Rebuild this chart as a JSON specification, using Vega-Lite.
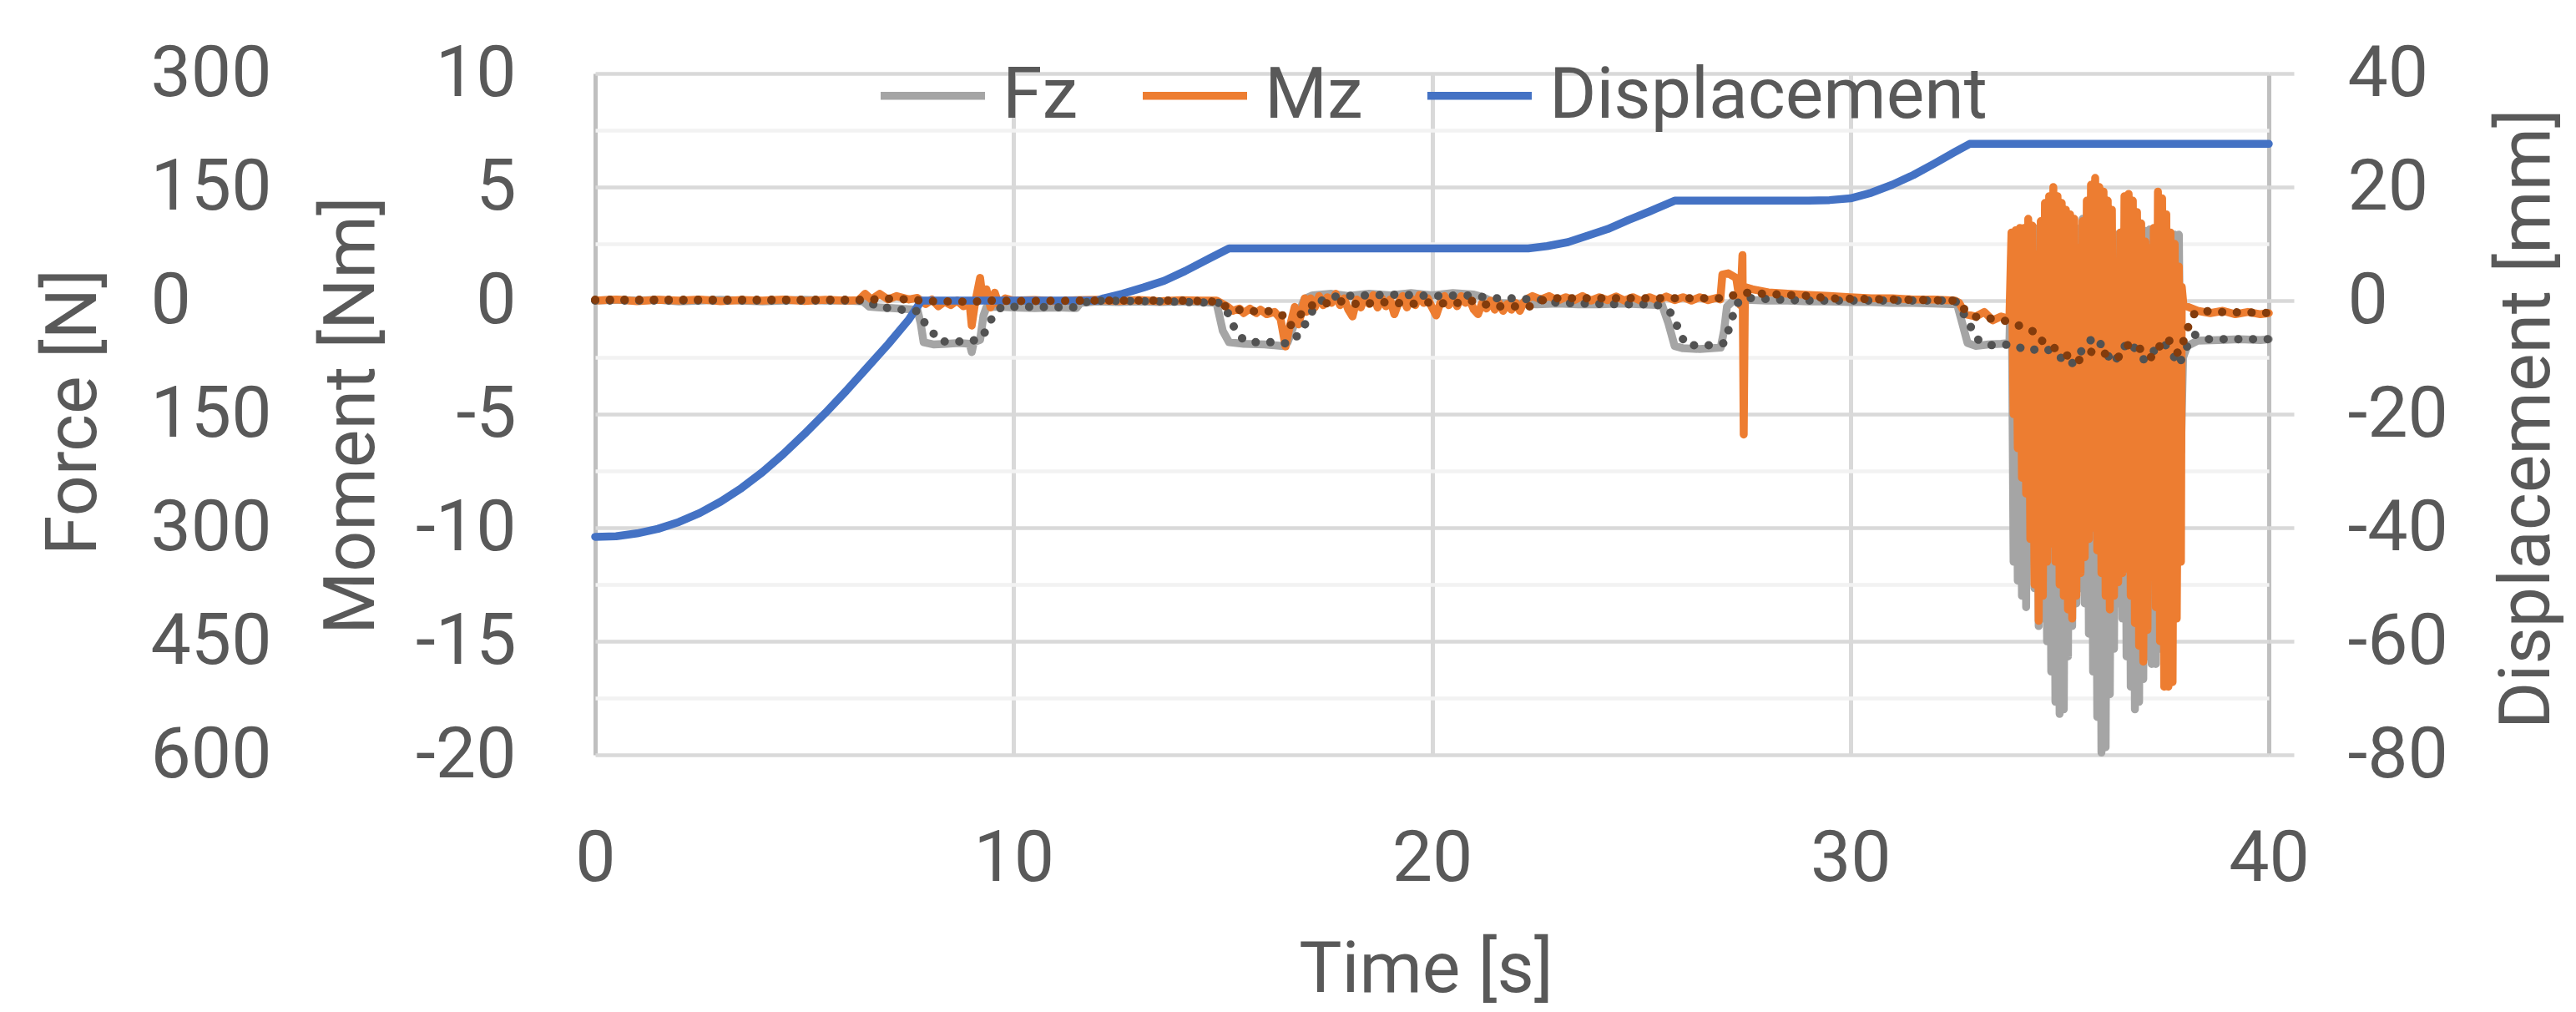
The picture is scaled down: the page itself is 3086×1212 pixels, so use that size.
{
  "$schema": "https://vega.github.io/schema/vega-lite/v6.json",
  "width": 2005,
  "height": 816,
  "autosize": {"type": "none"},
  "padding": {"left": 713, "top": 88, "right": 368, "bottom": 308},
  "background": "white",
  "config": {
    "view": {"stroke": null},
    "font": "Roboto",
    "axis": {
      "labelFont": "Roboto",
      "titleFont": "Roboto",
      "labelColor": "#595959",
      "titleColor": "#595959",
      "labelFontSize": 86,
      "titleFontSize": 86,
      "titleFontWeight": "normal",
      "labelFlush": false,
      "labelOverlap": false
    }
  },
  "datasets": {
    "fz": [
      {"t": 0, "v": 0}, {"t": 0.5, "v": 1}, {"t": 1, "v": 0}, {"t": 1.5, "v": 1}, {"t": 2, "v": -1},
      {"t": 2.5, "v": 0}, {"t": 3, "v": 1}, {"t": 3.5, "v": 0}, {"t": 4, "v": -1}, {"t": 4.5, "v": 0},
      {"t": 5, "v": 1}, {"t": 5.5, "v": 0}, {"t": 6, "v": 0}, {"t": 6.4, "v": -1}, {"t": 6.55, "v": -8},
      {"t": 6.8, "v": -9}, {"t": 7.1, "v": -10}, {"t": 7.4, "v": -11}, {"t": 7.7, "v": -12}, {"t": 7.78, "v": -30},
      {"t": 7.85, "v": -55}, {"t": 8.1, "v": -58}, {"t": 8.4, "v": -57}, {"t": 8.7, "v": -56}, {"t": 8.95, "v": -57},
      {"t": 9.0, "v": -68}, {"t": 9.05, "v": -55}, {"t": 9.2, "v": -52}, {"t": 9.28, "v": -20}, {"t": 9.35, "v": -9},
      {"t": 9.6, "v": -8}, {"t": 10, "v": -9}, {"t": 10.5, "v": -10}, {"t": 11, "v": -9}, {"t": 11.5, "v": -10},
      {"t": 11.6, "v": -3}, {"t": 12, "v": -1}, {"t": 12.5, "v": -2}, {"t": 13, "v": -1}, {"t": 13.5, "v": -2},
      {"t": 14, "v": -1}, {"t": 14.5, "v": -2}, {"t": 14.85, "v": -3}, {"t": 15.0, "v": -40}, {"t": 15.15, "v": -55},
      {"t": 15.5, "v": -57}, {"t": 16.0, "v": -58}, {"t": 16.45, "v": -60}, {"t": 16.55, "v": -55}, {"t": 16.75, "v": -25},
      {"t": 16.95, "v": 2}, {"t": 17.15, "v": 7}, {"t": 17.6, "v": 9}, {"t": 18, "v": 6}, {"t": 18.5, "v": 9},
      {"t": 19, "v": 7}, {"t": 19.5, "v": 10}, {"t": 20, "v": 7}, {"t": 20.5, "v": 10}, {"t": 21, "v": 8},
      {"t": 21.2, "v": 5}, {"t": 21.5, "v": -3}, {"t": 22, "v": -4}, {"t": 22.5, "v": -5}, {"t": 23, "v": -4},
      {"t": 23.5, "v": -5}, {"t": 24, "v": -5}, {"t": 24.5, "v": -4}, {"t": 25, "v": -5}, {"t": 25.5, "v": -6},
      {"t": 25.65, "v": -30}, {"t": 25.8, "v": -60}, {"t": 26.0, "v": -63}, {"t": 26.4, "v": -64}, {"t": 26.9, "v": -62},
      {"t": 26.98, "v": -40}, {"t": 27.05, "v": -8}, {"t": 27.2, "v": 0}, {"t": 27.5, "v": 1}, {"t": 28, "v": 0},
      {"t": 28.5, "v": 0}, {"t": 29, "v": -1}, {"t": 29.5, "v": -1}, {"t": 30, "v": -2}, {"t": 30.5, "v": -2},
      {"t": 31, "v": -3}, {"t": 31.5, "v": -3}, {"t": 32, "v": -4}, {"t": 32.55, "v": -5}, {"t": 32.65, "v": -25},
      {"t": 32.8, "v": -56}, {"t": 33.0, "v": -60}, {"t": 33.3, "v": -58}, {"t": 33.6, "v": -57}, {"t": 33.8, "v": -56},
      {"t": 33.85, "v": 60}, {"t": 33.9, "v": -345}, {"t": 33.95, "v": 70}, {"t": 34.0, "v": -370}, {"t": 34.05, "v": 80},
      {"t": 34.1, "v": -390}, {"t": 34.15, "v": 85}, {"t": 34.2, "v": -405}, {"t": 34.25, "v": 90}, {"t": 34.3, "v": -300},
      {"t": 34.35, "v": 90}, {"t": 34.4, "v": -380}, {"t": 34.45, "v": 95}, {"t": 34.5, "v": -430}, {"t": 34.55, "v": 95},
      {"t": 34.6, "v": -420}, {"t": 34.65, "v": 90}, {"t": 34.7, "v": -450}, {"t": 34.75, "v": 85}, {"t": 34.8, "v": -490},
      {"t": 34.85, "v": 80}, {"t": 34.9, "v": -530}, {"t": 34.95, "v": 85}, {"t": 35.0, "v": -546}, {"t": 35.05, "v": 80},
      {"t": 35.1, "v": -540}, {"t": 35.15, "v": 80}, {"t": 35.2, "v": -470}, {"t": 35.25, "v": 75}, {"t": 35.3, "v": -430},
      {"t": 35.35, "v": 85}, {"t": 35.4, "v": -400}, {"t": 35.45, "v": 95}, {"t": 35.5, "v": -380}, {"t": 35.55, "v": 108},
      {"t": 35.6, "v": -400}, {"t": 35.65, "v": 100}, {"t": 35.7, "v": -440}, {"t": 35.75, "v": 95}, {"t": 35.8, "v": -490},
      {"t": 35.85, "v": 90}, {"t": 35.9, "v": -550}, {"t": 35.95, "v": 95}, {"t": 36.0, "v": -597}, {"t": 36.05, "v": 90},
      {"t": 36.1, "v": -590}, {"t": 36.15, "v": 85}, {"t": 36.2, "v": -520}, {"t": 36.25, "v": 85}, {"t": 36.3, "v": -460},
      {"t": 36.35, "v": 87}, {"t": 36.4, "v": -400}, {"t": 36.45, "v": 80}, {"t": 36.5, "v": -420}, {"t": 36.55, "v": 80},
      {"t": 36.6, "v": -470}, {"t": 36.65, "v": 85}, {"t": 36.7, "v": -510}, {"t": 36.75, "v": 85}, {"t": 36.8, "v": -540},
      {"t": 36.85, "v": 90}, {"t": 36.9, "v": -530}, {"t": 36.95, "v": 90}, {"t": 37.0, "v": -500}, {"t": 37.05, "v": 92},
      {"t": 37.1, "v": -470}, {"t": 37.15, "v": 94}, {"t": 37.2, "v": -480}, {"t": 37.25, "v": 90}, {"t": 37.3, "v": -480},
      {"t": 37.35, "v": 85}, {"t": 37.4, "v": -460}, {"t": 37.45, "v": 80}, {"t": 37.5, "v": -430}, {"t": 37.55, "v": 80},
      {"t": 37.6, "v": -400}, {"t": 37.65, "v": 85}, {"t": 37.7, "v": -380}, {"t": 37.75, "v": 87}, {"t": 37.8, "v": -350},
      {"t": 37.85, "v": 87}, {"t": 37.9, "v": -200}, {"t": 37.95, "v": -75}, {"t": 38.05, "v": -60}, {"t": 38.3, "v": -53},
      {"t": 38.8, "v": -52}, {"t": 39.3, "v": -51}, {"t": 39.8, "v": -52}, {"t": 40, "v": -51}
    ],
    "mz": [
      {"t": 0, "v": 0}, {"t": 0.5, "v": 0.05}, {"t": 1, "v": -0.03}, {"t": 1.5, "v": 0.04}, {"t": 2, "v": 0},
      {"t": 2.5, "v": 0.05}, {"t": 3, "v": -0.03}, {"t": 3.5, "v": 0.03}, {"t": 4, "v": 0}, {"t": 4.5, "v": 0.05},
      {"t": 5, "v": -0.02}, {"t": 5.5, "v": 0.04}, {"t": 6, "v": 0}, {"t": 6.3, "v": 0.02}, {"t": 6.45, "v": 0.3},
      {"t": 6.6, "v": 0.05}, {"t": 6.8, "v": 0.3}, {"t": 7.0, "v": 0.05}, {"t": 7.2, "v": 0.2}, {"t": 7.5, "v": 0.05},
      {"t": 7.7, "v": 0.12}, {"t": 7.9, "v": -0.15}, {"t": 8.05, "v": 0.05}, {"t": 8.2, "v": -0.25}, {"t": 8.35, "v": -0.05},
      {"t": 8.5, "v": -0.2}, {"t": 8.65, "v": 0.0}, {"t": 8.8, "v": -0.25},
      {"t": 8.95, "v": -0.15}, {"t": 9.0, "v": -1.1}, {"t": 9.08, "v": -0.1}, {"t": 9.2, "v": 1.0}, {"t": 9.26, "v": 0.1},
      {"t": 9.35, "v": 0.5}, {"t": 9.45, "v": -0.3}, {"t": 9.55, "v": 0.35}, {"t": 9.65, "v": -0.2}, {"t": 9.8, "v": 0.1},
      {"t": 10, "v": 0}, {"t": 10.5, "v": 0.03}, {"t": 11, "v": -0.03}, {"t": 11.5, "v": 0.02}, {"t": 12, "v": 0.04},
      {"t": 12.5, "v": -0.02}, {"t": 13, "v": 0.03}, {"t": 13.5, "v": -0.03}, {"t": 14, "v": 0.02}, {"t": 14.5, "v": 0},
      {"t": 14.85, "v": 0}, {"t": 14.95, "v": -0.1}, {"t": 15.1, "v": -0.25}, {"t": 15.24, "v": -0.45}, {"t": 15.4, "v": -0.35},
      {"t": 15.5, "v": -0.55}, {"t": 15.65, "v": -0.35}, {"t": 15.8, "v": -0.55}, {"t": 15.9, "v": -0.4}, {"t": 16.05, "v": -0.6},
      {"t": 16.24, "v": -0.5}, {"t": 16.38, "v": -0.8}, {"t": 16.5, "v": -2.02}, {"t": 16.58, "v": -1.3}, {"t": 16.72, "v": -0.28},
      {"t": 16.81, "v": -1.05}, {"t": 16.96, "v": 0.1},
      {"t": 17.0, "v": -0.5}, {"t": 17.1, "v": 0.1}, {"t": 17.2, "v": -0.3}, {"t": 17.3, "v": 0.2}, {"t": 17.4, "v": -0.2},
      {"t": 17.5, "v": 0.15}, {"t": 17.6, "v": -0.1}, {"t": 17.7, "v": 0.3}, {"t": 17.8, "v": -0.2}, {"t": 17.9, "v": 0.1},
      {"t": 18.0, "v": -0.4}, {"t": 18.1, "v": -0.7}, {"t": 18.2, "v": 0.05}, {"t": 18.3, "v": -0.3}, {"t": 18.4, "v": 0.2},
      {"t": 18.5, "v": -0.15}, {"t": 18.6, "v": 0.25}, {"t": 18.7, "v": -0.3}, {"t": 18.8, "v": 0.1}, {"t": 18.9, "v": -0.25},
      {"t": 19.0, "v": 0.05}, {"t": 19.1, "v": -0.6}, {"t": 19.2, "v": -0.1}, {"t": 19.3, "v": 0.2}, {"t": 19.4, "v": -0.3},
      {"t": 19.5, "v": 0.1}, {"t": 19.6, "v": -0.2}, {"t": 19.7, "v": 0.25}, {"t": 19.8, "v": -0.1}, {"t": 19.9, "v": 0.1},
      {"t": 20.0, "v": -0.3}, {"t": 20.1, "v": -0.65}, {"t": 20.2, "v": -0.1}, {"t": 20.3, "v": 0.2}, {"t": 20.4, "v": -0.2},
      {"t": 20.5, "v": 0.15}, {"t": 20.6, "v": -0.25}, {"t": 20.7, "v": 0.2}, {"t": 20.8, "v": -0.1}, {"t": 20.9, "v": 0.05},
      {"t": 21.0, "v": -0.4}, {"t": 21.1, "v": -0.6}, {"t": 21.2, "v": -0.1}, {"t": 21.3, "v": -0.35}, {"t": 21.4, "v": 0.0},
      {"t": 21.5, "v": -0.4}, {"t": 21.6, "v": -0.1}, {"t": 21.7, "v": -0.45}, {"t": 21.8, "v": -0.15}, {"t": 21.9, "v": -0.4},
      {"t": 22.0, "v": -0.1}, {"t": 22.1, "v": -0.45}, {"t": 22.2, "v": -0.05}, {"t": 22.3, "v": 0.1}, {"t": 22.4, "v": 0.2},
      {"t": 22.6, "v": 0.05}, {"t": 22.8, "v": 0.2}, {"t": 23.0, "v": 0.0}, {"t": 23.2, "v": 0.15}, {"t": 23.4, "v": 0.02},
      {"t": 23.6, "v": 0.2}, {"t": 23.8, "v": 0.0}, {"t": 24.0, "v": 0.15}, {"t": 24.2, "v": 0.02}, {"t": 24.4, "v": 0.18},
      {"t": 24.6, "v": 0.0}, {"t": 24.8, "v": 0.15}, {"t": 25.0, "v": -0.02}, {"t": 25.2, "v": 0.15}, {"t": 25.4, "v": 0.0},
      {"t": 25.6, "v": 0.18}, {"t": 25.8, "v": 0.02}, {"t": 26.0, "v": 0.15}, {"t": 26.2, "v": 0.0}, {"t": 26.4, "v": 0.15},
      {"t": 26.6, "v": 0.02}, {"t": 26.8, "v": 0.12}, {"t": 26.89, "v": 0.05},
      {"t": 26.94, "v": 1.14}, {"t": 27.08, "v": 1.2}, {"t": 27.27, "v": 1.0}, {"t": 27.37, "v": -0.2}, {"t": 27.42, "v": 2.0},
      {"t": 27.45, "v": -5.9}, {"t": 27.48, "v": 0.6}, {"t": 27.65, "v": 0.5}, {"t": 28.04, "v": 0.36}, {"t": 28.5, "v": 0.3},
      {"t": 29, "v": 0.25}, {"t": 29.5, "v": 0.2}, {"t": 30, "v": 0.15}, {"t": 30.5, "v": 0.1}, {"t": 31, "v": 0.1},
      {"t": 31.5, "v": 0.05}, {"t": 32, "v": 0.05}, {"t": 32.5, "v": 0}, {"t": 32.6, "v": -0.1}, {"t": 32.75, "v": -0.6},
      {"t": 33.0, "v": -0.7}, {"t": 33.2, "v": -0.5}, {"t": 33.4, "v": -0.87}, {"t": 33.6, "v": -0.7}, {"t": 33.8, "v": -0.8},
      {"t": 33.85, "v": 3.0}, {"t": 33.9, "v": -5.0}, {"t": 33.95, "v": 3.1}, {"t": 34.0, "v": -6.5}, {"t": 34.05, "v": 3.2},
      {"t": 34.1, "v": -7.8}, {"t": 34.15, "v": 3.2}, {"t": 34.2, "v": -8.5}, {"t": 34.25, "v": 3.6}, {"t": 34.3, "v": -10.5},
      {"t": 34.35, "v": 3.3}, {"t": 34.4, "v": -12.5}, {"t": 34.45, "v": 2.0}, {"t": 34.5, "v": -14.1}, {"t": 34.55, "v": 3.5},
      {"t": 34.6, "v": -13.0}, {"t": 34.65, "v": 4.3}, {"t": 34.7, "v": -11.5}, {"t": 34.75, "v": 4.6}, {"t": 34.8, "v": -10.7},
      {"t": 34.85, "v": 5.0}, {"t": 34.9, "v": -11.5}, {"t": 34.95, "v": 4.6}, {"t": 35.0, "v": -12.5}, {"t": 35.05, "v": 4.3},
      {"t": 35.1, "v": -13.0}, {"t": 35.15, "v": 4.0}, {"t": 35.2, "v": -13.6}, {"t": 35.25, "v": 3.8}, {"t": 35.3, "v": -14.0},
      {"t": 35.35, "v": 3.6}, {"t": 35.4, "v": -13.0}, {"t": 35.45, "v": 2.3}, {"t": 35.5, "v": -12.0}, {"t": 35.55, "v": 3.5},
      {"t": 35.6, "v": -11.3}, {"t": 35.65, "v": 4.4}, {"t": 35.7, "v": -10.5}, {"t": 35.75, "v": 5.1}, {"t": 35.8, "v": -10.0},
      {"t": 35.85, "v": 5.4}, {"t": 35.9, "v": -11.0}, {"t": 35.95, "v": 5.0}, {"t": 36.0, "v": -12.0}, {"t": 36.05, "v": 4.8},
      {"t": 36.1, "v": -13.0}, {"t": 36.15, "v": 4.4}, {"t": 36.2, "v": -13.6}, {"t": 36.25, "v": 4.0}, {"t": 36.3, "v": -13.0},
      {"t": 36.35, "v": 1.6}, {"t": 36.4, "v": -12.4}, {"t": 36.45, "v": 3.0}, {"t": 36.5, "v": -12.0}, {"t": 36.55, "v": 4.6},
      {"t": 36.6, "v": -11.8}, {"t": 36.65, "v": 4.7}, {"t": 36.7, "v": -13.0}, {"t": 36.75, "v": 4.4}, {"t": 36.8, "v": -14.2},
      {"t": 36.85, "v": 3.9}, {"t": 36.9, "v": -15.2}, {"t": 36.95, "v": 3.4}, {"t": 37.0, "v": -15.9}, {"t": 37.05, "v": 2.6},
      {"t": 37.1, "v": -14.5}, {"t": 37.15, "v": 2.3}, {"t": 37.2, "v": -12.0}, {"t": 37.25, "v": 3.2}, {"t": 37.3, "v": -13.5},
      {"t": 37.35, "v": 4.8}, {"t": 37.4, "v": -15.0}, {"t": 37.45, "v": 4.5}, {"t": 37.5, "v": -17.0}, {"t": 37.55, "v": 3.8},
      {"t": 37.6, "v": -17.0}, {"t": 37.65, "v": 3.0}, {"t": 37.7, "v": -16.8}, {"t": 37.75, "v": 2.5}, {"t": 37.8, "v": -14.0},
      {"t": 37.85, "v": 1.5}, {"t": 37.9, "v": -11.5}, {"t": 37.92, "v": 0.6}, {"t": 37.96, "v": -0.2}, {"t": 38.1, "v": -0.3},
      {"t": 38.3, "v": -0.45}, {"t": 38.6, "v": -0.55}, {"t": 38.9, "v": -0.45}, {"t": 39.2, "v": -0.6}, {"t": 39.5, "v": -0.5},
      {"t": 39.8, "v": -0.6}, {"t": 40, "v": -0.55}
    ],
    "disp": [
      {"t": 0, "v": -41.6}, {"t": 0.5, "v": -41.5}, {"t": 1.0, "v": -41.0}, {"t": 1.5, "v": -40.2}, {"t": 2.0, "v": -39.0},
      {"t": 2.5, "v": -37.4}, {"t": 3.0, "v": -35.4}, {"t": 3.5, "v": -33.0}, {"t": 4.0, "v": -30.2}, {"t": 4.5, "v": -27.0},
      {"t": 5.0, "v": -23.5}, {"t": 5.5, "v": -19.8}, {"t": 6.0, "v": -15.9}, {"t": 6.5, "v": -11.8}, {"t": 7.0, "v": -7.7},
      {"t": 7.5, "v": -3.3}, {"t": 7.8, "v": 0}, {"t": 12.0, "v": 0}, {"t": 12.15, "v": 0.4}, {"t": 12.6, "v": 1.2},
      {"t": 13.1, "v": 2.3}, {"t": 13.6, "v": 3.5}, {"t": 14.1, "v": 5.2}, {"t": 14.7, "v": 7.5}, {"t": 15.15, "v": 9.2},
      {"t": 22.3, "v": 9.2}, {"t": 22.75, "v": 9.6}, {"t": 23.25, "v": 10.3}, {"t": 23.75, "v": 11.5}, {"t": 24.2, "v": 12.6},
      {"t": 24.7, "v": 14.2}, {"t": 25.2, "v": 15.7}, {"t": 25.8, "v": 17.6}, {"t": 29.0, "v": 17.6}, {"t": 29.5, "v": 17.7},
      {"t": 30.0, "v": 18.0}, {"t": 30.5, "v": 19.0}, {"t": 31.0, "v": 20.4}, {"t": 31.5, "v": 22.1}, {"t": 32.0, "v": 24.1},
      {"t": 32.5, "v": 26.2}, {"t": 32.85, "v": 27.6}, {"t": 40, "v": 27.6}
    ],
    "fzavg": [
      {"t": 0, "v": 0}, {"t": 6.5, "v": 0}, {"t": 6.76, "v": -9}, {"t": 7.1, "v": -10}, {"t": 7.43, "v": -13},
      {"t": 7.72, "v": -14}, {"t": 7.86, "v": -28}, {"t": 8.05, "v": -41}, {"t": 8.24, "v": -54}, {"t": 8.94, "v": -54},
      {"t": 9.24, "v": -50}, {"t": 9.39, "v": -33}, {"t": 9.53, "v": -18}, {"t": 9.72, "v": -8}, {"t": 11.5, "v": -9},
      {"t": 11.58, "v": -6}, {"t": 11.82, "v": 0}, {"t": 13.5, "v": -1}, {"t": 14.95, "v": -3}, {"t": 15.0, "v": -7},
      {"t": 15.14, "v": -18}, {"t": 15.26, "v": -34}, {"t": 15.41, "v": -48}, {"t": 15.62, "v": -55}, {"t": 16.27, "v": -55},
      {"t": 16.58, "v": -57}, {"t": 16.79, "v": -46}, {"t": 16.93, "v": -35}, {"t": 17.07, "v": -20}, {"t": 17.22, "v": -7},
      {"t": 17.43, "v": 3}, {"t": 17.77, "v": 6}, {"t": 18.5, "v": 7}, {"t": 19.2, "v": 8}, {"t": 20.0, "v": 6},
      {"t": 20.8, "v": 7}, {"t": 21.54, "v": 3}, {"t": 21.88, "v": 3}, {"t": 22.6, "v": 1}, {"t": 23.0, "v": -3},
      {"t": 24.5, "v": -5}, {"t": 25.36, "v": -5}, {"t": 25.68, "v": -14}, {"t": 25.82, "v": -28}, {"t": 25.94, "v": -45},
      {"t": 26.08, "v": -59}, {"t": 26.7, "v": -59}, {"t": 26.99, "v": -56}, {"t": 27.08, "v": -40}, {"t": 27.18, "v": -22},
      {"t": 27.27, "v": -5}, {"t": 27.46, "v": 4}, {"t": 28.0, "v": 2}, {"t": 29, "v": 0}, {"t": 32.5, "v": 0},
      {"t": 32.75, "v": -21}, {"t": 32.88, "v": -35}, {"t": 33.06, "v": -52}, {"t": 33.33, "v": -59}, {"t": 33.64, "v": -58},
      {"t": 33.94, "v": -59}, {"t": 34.2, "v": -66}, {"t": 34.67, "v": -63}, {"t": 34.87, "v": -70}, {"t": 35.07, "v": -77},
      {"t": 35.27, "v": -85}, {"t": 35.53, "v": -66}, {"t": 35.67, "v": -55}, {"t": 35.86, "v": -48}, {"t": 36.0, "v": -59},
      {"t": 36.13, "v": -71}, {"t": 36.3, "v": -83}, {"t": 36.46, "v": -66}, {"t": 36.66, "v": -54}, {"t": 36.9, "v": -70},
      {"t": 37.03, "v": -79}, {"t": 37.26, "v": -66}, {"t": 37.5, "v": -57}, {"t": 37.66, "v": -66}, {"t": 37.83, "v": -85},
      {"t": 37.93, "v": -76}, {"t": 38.06, "v": -59}, {"t": 38.23, "v": -45}, {"t": 38.46, "v": -51}, {"t": 40, "v": -51}
    ],
    "mzavg": [
      {"t": 0, "v": 0.04}, {"t": 6.5, "v": 0.04}, {"t": 7.0, "v": 0.08}, {"t": 7.5, "v": 0.05}, {"t": 8.0, "v": -0.03},
      {"t": 9.0, "v": -0.05}, {"t": 9.5, "v": 0.0}, {"t": 10, "v": -0.02}, {"t": 12, "v": 0}, {"t": 14, "v": 0},
      {"t": 14.9, "v": -0.05}, {"t": 15.0, "v": -0.22}, {"t": 15.3, "v": -0.35}, {"t": 15.5, "v": -0.47}, {"t": 16.2, "v": -0.47},
      {"t": 16.45, "v": -0.67}, {"t": 16.6, "v": -1.12}, {"t": 16.75, "v": -0.88}, {"t": 16.95, "v": -0.41}, {"t": 17.1, "v": -0.22},
      {"t": 17.35, "v": -0.15}, {"t": 17.6, "v": -0.09}, {"t": 17.9, "v": -0.02}, {"t": 18.3, "v": -0.2}, {"t": 18.7, "v": -0.05},
      {"t": 19.1, "v": -0.1}, {"t": 19.5, "v": -0.15}, {"t": 19.9, "v": -0.08}, {"t": 20.5, "v": -0.15}, {"t": 20.8, "v": -0.02},
      {"t": 21.1, "v": -0.02}, {"t": 21.4, "v": -0.26}, {"t": 22.35, "v": -0.26}, {"t": 22.6, "v": 0}, {"t": 22.9, "v": 0.1},
      {"t": 27.0, "v": 0.1}, {"t": 27.4, "v": 0.36}, {"t": 27.9, "v": 0.3}, {"t": 29.1, "v": 0.2}, {"t": 29.4, "v": 0.1},
      {"t": 32.5, "v": 0}, {"t": 32.75, "v": -0.42}, {"t": 32.93, "v": -0.69}, {"t": 33.2, "v": -0.78}, {"t": 33.5, "v": -0.8},
      {"t": 33.87, "v": -0.97}, {"t": 34.15, "v": -1.2}, {"t": 34.5, "v": -1.45}, {"t": 34.6, "v": -1.84}, {"t": 34.87, "v": -2.08},
      {"t": 35.13, "v": -2.33}, {"t": 35.33, "v": -2.68}, {"t": 35.5, "v": -2.6}, {"t": 35.8, "v": -2.2}, {"t": 36.0, "v": -2.25},
      {"t": 36.2, "v": -2.45}, {"t": 36.4, "v": -2.5}, {"t": 36.66, "v": -1.9}, {"t": 36.86, "v": -1.98}, {"t": 37.06, "v": -2.45},
      {"t": 37.23, "v": -2.5}, {"t": 37.5, "v": -1.67}, {"t": 37.66, "v": -1.8}, {"t": 37.83, "v": -2.33}, {"t": 37.93, "v": -1.95},
      {"t": 38.06, "v": -1.23}, {"t": 38.16, "v": -0.68}, {"t": 38.33, "v": -0.43}, {"t": 38.7, "v": -0.5}, {"t": 40, "v": -0.54}
    ]
  },
  "encoding": {
    "x": {
      "field": "t",
      "type": "quantitative",
      "scale": {"domain": [0, 40], "nice": false, "zero": false},
      "axis": {
        "values": [0, 10, 20, 30, 40],
        "grid": true,
        "gridColor": {"condition": {"test": "datum.value == 0 || datum.value == 40", "value": "#bfbfbf"}, "value": "#d9d9d9"},
        "gridWidth": 5,
        "domain": false,
        "ticks": false,
        "labelPadding": 82,
        "title": "Time [s]",
        "titleX": 995,
        "titleY": 283,
        "titleBaseline": "alphabetic"
      }
    }
  },
  "layer": [
    {
      "data": {"name": "fz"},
      "mark": {"type": "line", "strokeWidth": 9.5, "strokeJoin": "round", "strokeCap": "round"},
      "encoding": {
        "y": {
          "field": "v",
          "type": "quantitative",
          "scale": {"domain": [-600, 300], "nice": false, "zero": false},
          "axis": {
            "orient": "left",
            "values": [300, 150, 0, -150, -300, -450, -600],
            "labelExpr": "format(abs(datum.value), 'd')",
            "labelAlign": "left",
            "labelPadding": 533,
            "grid": false,
            "domain": false,
            "ticks": false,
            "title": "Force [N]",
            "titleAngle": -90,
            "titleX": -599,
            "titleY": 405,
            "titleAlign": "center",
            "titleBaseline": "alphabetic"
          }
        },
        "color": {
          "datum": "Fz",
          "type": "nominal",
          "scale": {"domain": ["Fz", "Mz", "Displacement"], "range": ["#a5a5a5", "#ed7d31", "#4472c4"]},
          "legend": {
            "orient": "none",
            "legendX": 337,
            "legendY": -41,
            "direction": "horizontal",
            "title": null,
            "symbolType": "stroke",
            "symbolSize": 15625,
            "symbolStrokeWidth": 9.5,
            "labelFont": "Roboto",
            "labelFontSize": 86,
            "labelColor": "#595959",
            "labelOffset": 16,
            "labelLimit": 1000,
            "columnPadding": 58,
            "padding": 0
          }
        }
      }
    },
    {
      "data": {"name": "mz"},
      "mark": {"type": "line", "strokeWidth": 9.5, "strokeJoin": "round", "strokeCap": "round"},
      "encoding": {
        "y": {
          "field": "v",
          "type": "quantitative",
          "scale": {"domain": [-20, 10], "nice": false, "zero": false},
          "axis": {
            "orient": "left",
            "values": [10, 5, 0, -5, -10, -15, -20],
            "labelExpr": "datum.value + ''",
            "grid": true,
            "gridColor": "#d9d9d9",
            "gridWidth": 4.5,
            "domain": false,
            "ticks": false,
            "labelPadding": 95,
            "title": "Moment [Nm]",
            "titleAngle": -90,
            "titleX": -266,
            "titleY": 409,
            "titleAlign": "center",
            "titleBaseline": "alphabetic"
          }
        },
        "color": {"datum": "Mz", "type": "nominal"}
      }
    },
    {
      "data": {"name": "disp"},
      "mark": {"type": "line", "strokeWidth": 9.5, "strokeJoin": "round", "strokeCap": "round"},
      "encoding": {
        "y": {
          "field": "v",
          "type": "quantitative",
          "scale": {"domain": [-80, 40], "nice": false, "zero": false},
          "axis": {
            "orient": "right",
            "values": [40, 20, 0, -20, -40, -60, -80],
            "labelExpr": "datum.value + ''",
            "grid": false,
            "domain": false,
            "ticks": true,
            "tickSize": 30,
            "tickColor": "#d9d9d9",
            "tickWidth": 4.5,
            "labelPadding": 64,
            "labelAlign": "left",
            "title": "Displacement [mm]",
            "titleAngle": -90,
            "titleX": 335,
            "titleY": 413,
            "titleAlign": "center",
            "titleBaseline": "alphabetic"
          }
        },
        "color": {"datum": "Displacement", "type": "nominal"}
      }
    },
    {
      "data": {"name": "fzavg"},
      "mark": {"type": "line", "strokeWidth": 10, "strokeCap": "round", "strokeDash": [0.1, 17.5], "color": "#525252"},
      "encoding": {
        "y": {
          "field": "v",
          "type": "quantitative",
          "scale": {"domain": [-600, 300], "nice": false, "zero": false},
          "axis": null
        }
      }
    },
    {
      "data": {"name": "mzavg"},
      "mark": {"type": "line", "strokeWidth": 10, "strokeCap": "round", "strokeDash": [0.1, 17.5], "color": "#843c0c"},
      "encoding": {
        "y": {
          "field": "v",
          "type": "quantitative",
          "scale": {"domain": [-20, 10], "nice": false, "zero": false},
          "axis": {
            "orient": "left",
            "values": [7.5, 2.5, -2.5, -7.5, -12.5, -17.5],
            "grid": true,
            "gridColor": "#f2f2f2",
            "gridWidth": 4.5,
            "labels": false,
            "ticks": false,
            "domain": false,
            "title": null
          }
        }
      }
    }
  ],
  "resolve": {"scale": {"y": "independent"}, "axis": {"y": "independent"}}
}
